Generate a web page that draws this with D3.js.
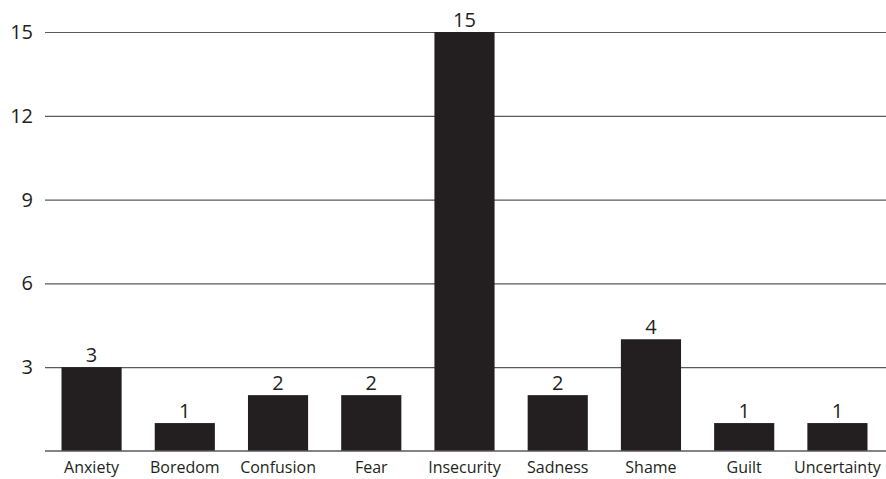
<!DOCTYPE html>
<html>
<head>
<meta charset="utf-8">
<script src="https://cdn.jsdelivr.net/npm/d3@7"></script>
<style>
  body { margin: 0; background: #fff; }
  text { font-family: "Open Sans", "Noto Sans", sans-serif; fill: #231f20; }
</style>
</head>
<body>
<div id="chart"></div>
<script>
const categories = ["Anxiety", "Boredom", "Confusion", "Fear", "Insecurity", "Sadness", "Shame", "Guilt", "Uncertainty"];
const counts = [3, 1, 2, 2, 15, 2, 4, 1, 1];
const yTicks = [3, 6, 9, 12, 15];

const width = 886, height = 479;
const margin = { top: 32, right: 0, bottom: 28, left: 45 };
const innerW = width - margin.left - margin.right;
const innerH = height - margin.top - margin.bottom;

const svg = d3.select("#chart")
  .append("svg")
  .attr("width", width)
  .attr("height", height);

const chart = svg.append("g")
  .attr("transform", `translate(${margin.left}, ${margin.top})`);

// bars occupy [0, 839] of the band range, gridlines run to the edge
const xScale = d3.scaleBand()
  .domain(categories)
  .range([0, innerW - 2])
  .paddingInner(0.355)
  .paddingOuter(0.177);

const yScale = d3.scaleLinear()
  .domain([0, 15])
  .range([innerH, 0]);

// grid lines with labels
const grid = chart.append("g")
  .call(d3.axisLeft(yScale).tickValues(yTicks).tickSize(-innerW).tickPadding(12));
grid.select(".domain").remove();
grid.selectAll(".tick line").attr("stroke", "#5a5a5a").attr("stroke-width", 1.2);
grid.selectAll(".tick text")
  .attr("font-size", 20)
  .attr("fill", "#231f20")
  .attr("font-family", "'Open Sans', sans-serif");

// bars
const bars = chart.selectAll(".bar")
  .data(counts)
  .enter()
  .append("g");

bars.append("rect")
  .attr("x", (d, i) => xScale(categories[i]))
  .attr("y", d => yScale(d))
  .attr("width", xScale.bandwidth())
  .attr("height", d => innerH - yScale(d))
  .attr("fill", "#231f20");

bars.append("text")
  .attr("x", (d, i) => xScale(categories[i]) + xScale.bandwidth() / 2)
  .attr("y", d => yScale(d) - 5)
  .attr("text-anchor", "middle")
  .attr("font-size", 20)
  .text(d => d);

// baseline + category labels
const xAxis = chart.append("g")
  .attr("transform", `translate(0, ${innerH})`)
  .call(d3.axisBottom(xScale).tickSize(0).tickPadding(11));
xAxis.select(".domain")
  .attr("d", `M0,0H${innerW}`)
  .attr("stroke", "#5a5a5a")
  .attr("stroke-width", 1.5);
xAxis.selectAll(".tick text")
  .attr("font-size", 16)
  .attr("fill", "#231f20")
  .attr("font-family", "'Open Sans', sans-serif");
</script>
</body>
</html>
